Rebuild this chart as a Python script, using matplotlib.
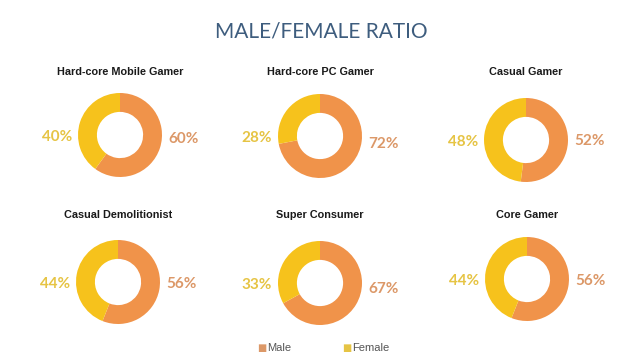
import numpy as np
import matplotlib
matplotlib.use("Agg")
import matplotlib.pyplot as plt

# 数据
groups = ["Hard-core Mobile Gamer", "Hard-core PC Gamer", "Casual Gamer",
          "Casual Demolitionist", "Super Consumer", "Core Gamer"]
male = [60, 72, 52, 56, 67, 56]
female = [40, 28, 48, 44, 33, 44]
legend_labels = ["Male", "Female"]

male_color = "#F0934A"
female_color = "#F6C21C"
male_text = "#DC9868"
female_text = "#E6C444"

W, H = 640, 358
fig = plt.figure(figsize=(W / 100, H / 100), dpi=100)
fig.patch.set_facecolor("white")

fig.text(321 / W, 1 - 31 / H, "MALE/FEMALE RATIO", ha="center", va="center",
         fontsize=15, color="#3E5D7E", family="Lato")

# 每个圆环的中心位置 (像素)
centers = [(120, 135), (320, 136), (526, 140), (118, 282), (320, 283), (527, 279)]
title_y = [72, 72, 72, 215, 215, 215]

R = 42  # 外半径像素
L = 1.6
size = 2 * L * R
for i, (cx, cy) in enumerate(centers):
    ax = fig.add_axes([(cx - size / 2) / W, 1 - (cy + size / 2) / H, size / W, size / H])
    ax.pie([male[i], female[i]], colors=[male_color, female_color], startangle=90,
           counterclock=False, radius=1, wedgeprops=dict(width=0.45, linewidth=0))
    ax.set_xlim(-L, L)
    ax.set_ylim(-L, L)
    ax.set_aspect("equal")
    ax.axis("off")
    # 标签放在两侧
    m_mid = np.deg2rad(90 - male[i] / 100 * 360 / 2)
    ax.text(1.52, 0.3 * np.sin(m_mid), f"{male[i]}%", ha="center", va="center",
            fontsize=11, fontweight="bold", color=male_text, family="Lato")
    ax.text(-1.5, -0.05, f"{female[i]}%", ha="center", va="center",
            fontsize=11, fontweight="bold", color=female_text, family="Lato")
    fig.text(cx / W, 1 - title_y[i] / H, groups[i], ha="center", va="center",
             fontsize=7.8, fontweight="bold", color="#1a1a1a", family="Liberation Sans")

# 图例
for x, lab, c in zip([262, 347], legend_labels, [male_text, female_text]):
    fig.text(x / W, 1 - 348 / H, "■", ha="center", va="center", fontsize=7, color=c)
    fig.text((x + 5) / W, 1 - 348 / H, lab, ha="left", va="center",
             fontsize=8, color="#555555", family="Liberation Sans")

fig.savefig("out.png", dpi=100, facecolor="white")
